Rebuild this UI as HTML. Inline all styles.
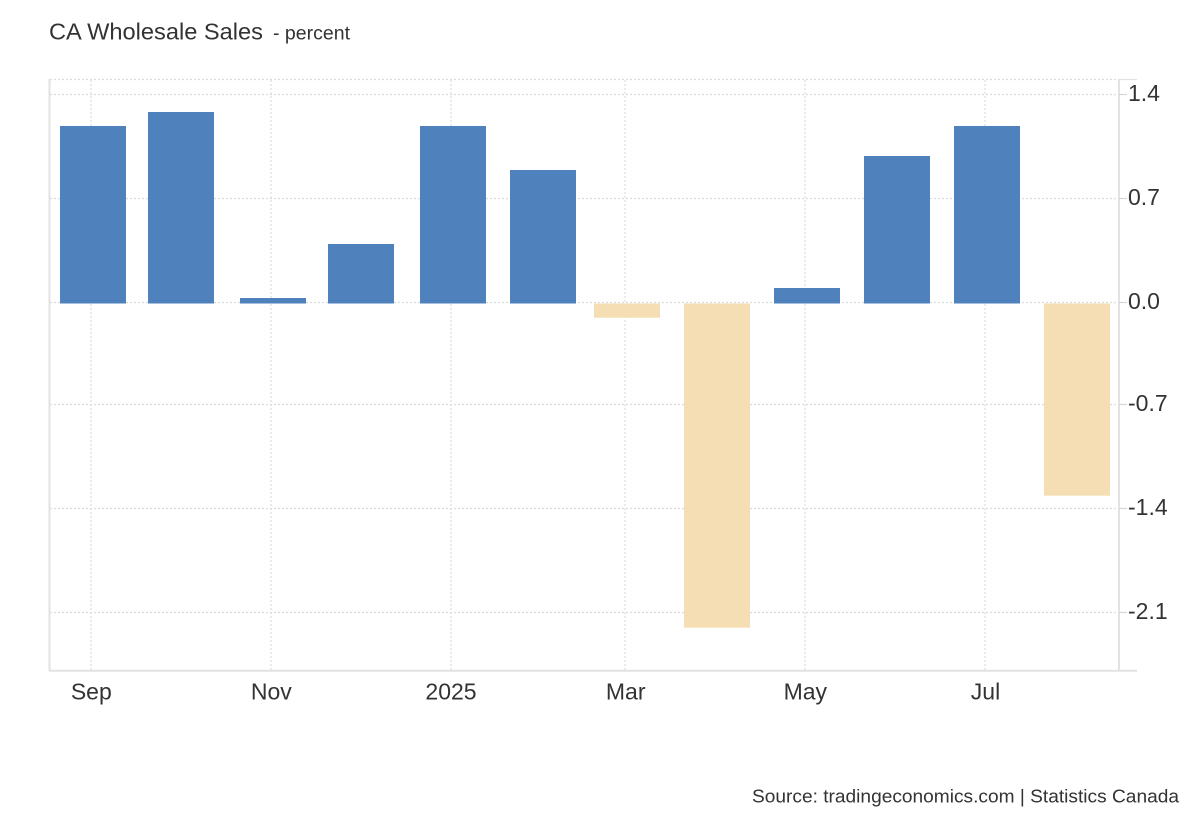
<!DOCTYPE html>
<html>
<head>
<meta charset="utf-8">
<style>
  html, body { margin: 0; padding: 0; background: #ffffff; }
  body { width: 1200px; height: 820px; overflow: hidden; }
  svg { display: block; }
  text { font-family: "Liberation Sans", Arial, sans-serif; fill: #333333; }
</style>
</head>
<body>
<svg width="1200" height="820" viewBox="0 0 1200 820" xmlns="http://www.w3.org/2000/svg">
  <rect x="0" y="0" width="1200" height="820" fill="#ffffff"/>

  <!-- Title -->
  <text x="49" y="39.3" font-size="23" textLength="214" lengthAdjust="spacingAndGlyphs">CA Wholesale Sales</text>
  <text x="273" y="39.3" font-size="19" textLength="77" lengthAdjust="spacingAndGlyphs">- percent</text>

  <!-- Horizontal dotted gridlines -->
  <g stroke="#dcdcdc" stroke-width="1.2" stroke-dasharray="2,2" fill="none">
    <line x1="50" y1="79.5" x2="1119" y2="79.5"/>
    <line x1="50" y1="94.5" x2="1119" y2="94.5"/>
    <line x1="50" y1="198.5" x2="1119" y2="198.5"/>
    <line x1="50" y1="302.5" x2="1119" y2="302.5"/>
    <line x1="50" y1="404.5" x2="1119" y2="404.5"/>
    <line x1="50" y1="508.5" x2="1119" y2="508.5"/>
    <line x1="50" y1="612.5" x2="1119" y2="612.5"/>
  </g>

  <!-- Vertical dotted gridlines -->
  <g stroke="#dcdcdc" stroke-width="1.2" stroke-dasharray="2,2" fill="none">
    <line x1="91" y1="80" x2="91" y2="670"/>
    <line x1="271" y1="80" x2="271" y2="670"/>
    <line x1="451" y1="80" x2="451" y2="670"/>
    <line x1="625" y1="80" x2="625" y2="670"/>
    <line x1="805" y1="80" x2="805" y2="670"/>
    <line x1="985" y1="80" x2="985" y2="670"/>
  </g>

  <!-- Bars -->
  <g fill="#4f81bd">
    <rect x="60" y="126" width="66" height="177.5"/>
    <rect x="148" y="112" width="66" height="191.5"/>
    <rect x="240" y="298" width="66" height="5.5"/>
    <rect x="328" y="244" width="66" height="59.5"/>
    <rect x="420" y="126" width="66" height="177.5"/>
    <rect x="510" y="170" width="66" height="133.5"/>
    <rect x="774" y="288" width="66" height="15.5"/>
    <rect x="864" y="156" width="66" height="147.5"/>
    <rect x="954" y="126" width="66" height="177.5"/>
  </g>
  <g fill="#f5deb3">
    <rect x="594" y="303.5" width="66" height="14.2"/>
    <rect x="684" y="303.5" width="66" height="324.2"/>
    <rect x="1044" y="303.5" width="66" height="192.2"/>
  </g>

  <!-- Axes -->
  <g stroke="#e2e2e2" fill="none">
    <line x1="49.5" y1="79" x2="49.5" y2="671" stroke-width="2"/>
    <line x1="1119" y1="79" x2="1119" y2="671" stroke-width="2"/>
    <line x1="49" y1="670.7" x2="1137" y2="670.7" stroke-width="2"/>
    <line x1="1119" y1="79.5" x2="1137" y2="79.5" stroke-width="1.2"/>
  </g>
  <!-- Y ticks -->
  <g stroke="#d6d6d6" stroke-width="1.2">
    <line x1="1119" y1="94.5" x2="1127" y2="94.5"/>
    <line x1="1119" y1="198.5" x2="1127" y2="198.5"/>
    <line x1="1119" y1="302.5" x2="1127" y2="302.5"/>
    <line x1="1119" y1="404.5" x2="1127" y2="404.5"/>
    <line x1="1119" y1="508.5" x2="1127" y2="508.5"/>
    <line x1="1119" y1="612.5" x2="1127" y2="612.5"/>
  </g>

  <!-- Y labels -->
  <g font-size="23">
    <text x="1128" y="101">1.4</text>
    <text x="1128" y="205">0.7</text>
    <text x="1128" y="309">0.0</text>
    <text x="1128" y="411">-0.7</text>
    <text x="1128" y="515">-1.4</text>
    <text x="1128" y="619">-2.1</text>
  </g>

  <!-- X labels -->
  <g font-size="23" text-anchor="middle">
    <text x="91.3" y="699.3">Sep</text>
    <text x="271.3" y="699.3">Nov</text>
    <text x="451" y="699.3">2025</text>
    <text x="625.7" y="699.3">Mar</text>
    <text x="805.3" y="699.3">May</text>
    <text x="985.5" y="699.3">Jul</text>
  </g>

  <!-- Source -->
  <text x="752" y="802.3" font-size="18" textLength="427" lengthAdjust="spacingAndGlyphs">Source: tradingeconomics.com | Statistics Canada</text>
</svg>
</body>
</html>
